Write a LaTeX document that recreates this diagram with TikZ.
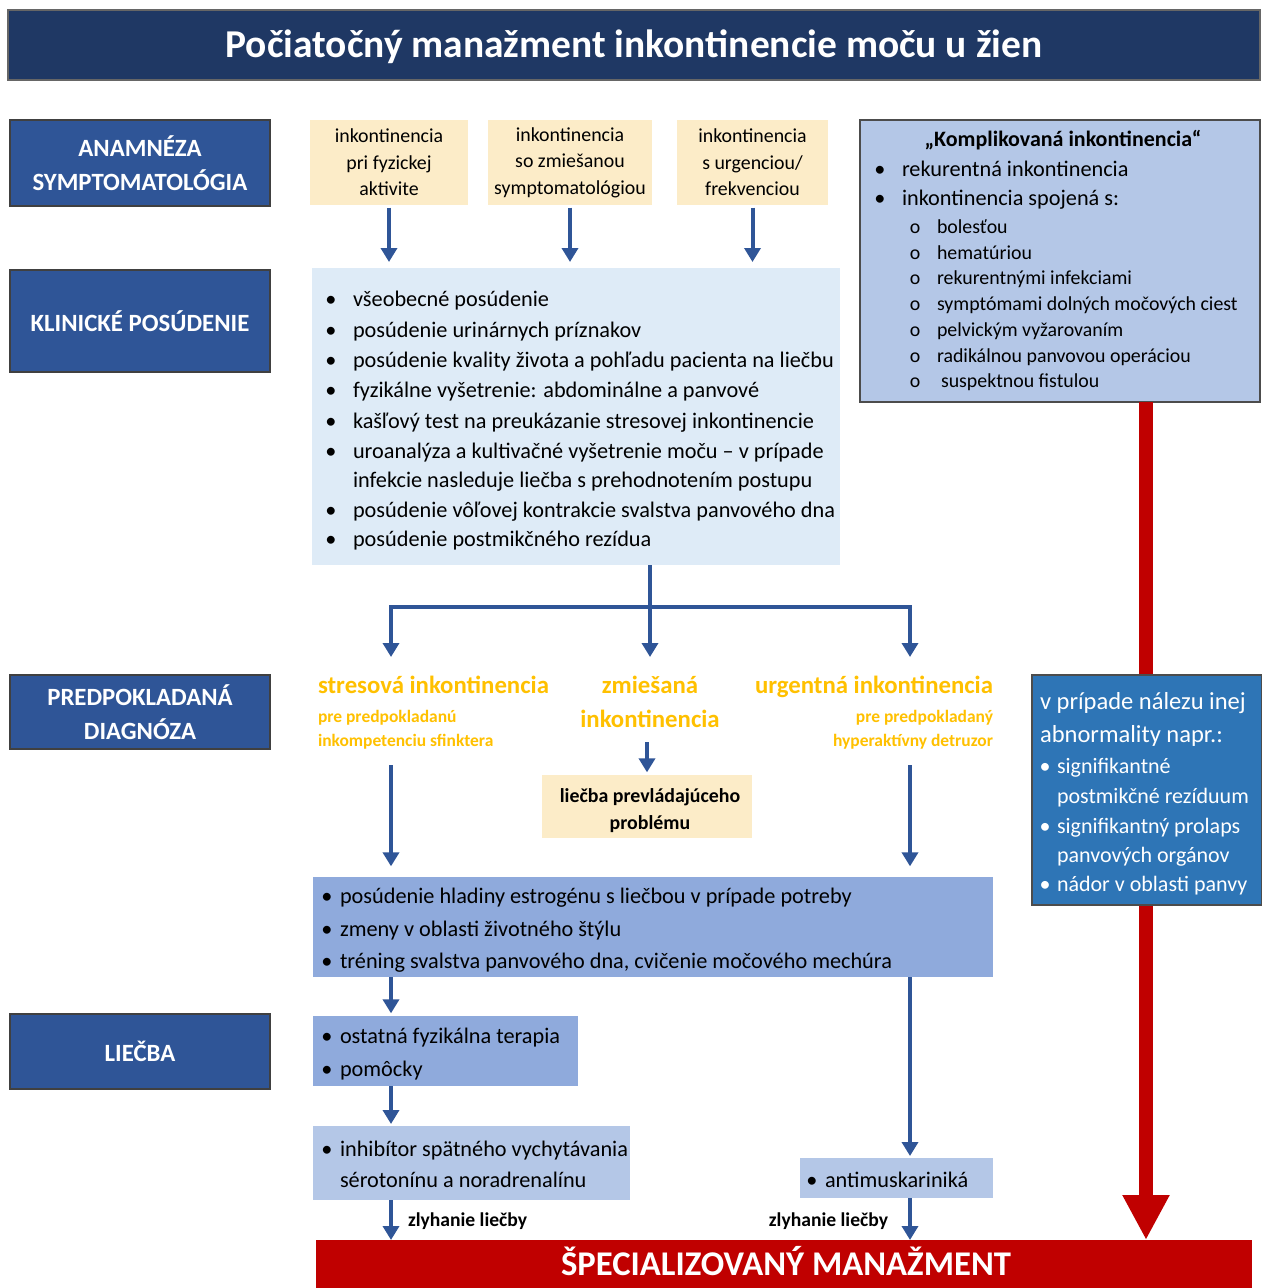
\documentclass[tikz,border=0pt]{standalone}
\usepackage{fontspec}
\setmainfont{Carlito}
\usetikzlibrary{arrows.meta}
\definecolor{navy}{RGB}{31,56,100}
\definecolor{lbox}{RGB}{47,85,151}
\definecolor{ylw}{RGB}{252,236,200}
\definecolor{pale}{RGB}{222,235,247}
\definecolor{mblue}{RGB}{180,199,231}
\definecolor{dblue}{RGB}{143,170,220}
\definecolor{rblue}{RGB}{46,117,182}
\definecolor{gold}{RGB}{255,192,0}
\definecolor{dred}{RGB}{192,0,0}
\definecolor{arrc}{RGB}{47,85,151}
\newcommand\rbox[7]{\node[#6, anchor=north west, minimum width={(#4-(#2))*0.75pt}, minimum height={(#5-(#3))*0.75pt}, inner sep=0pt, outer sep=0pt] (#1) at (#2,#3) {#7};}
\tikzset{
 ln/.style={inner sep=0pt, outer sep=0pt, text height=1.05em, text depth=0.05em},
 blk/.style={fill=lbox, draw=black!75, line width=1pt, text=white, align=center, font=\fontsize{18.6pt}{25.5pt}\selectfont\bfseries},
 ybox/.style={fill=ylw, align=center, font=\fontsize{14.9pt}{20pt}\selectfont},
 f16/.style={font=\fontsize{16.7pt}{20pt}\selectfont},
 f14/.style={font=\fontsize{14.9pt}{17pt}\selectfont},
 fw/.style={font=\fontsize{16.5pt}{20pt}\selectfont, text=white},
 fwb/.style={font=\fontsize{18.4pt}{22pt}\selectfont, text=white},
 dg/.style={font=\fontsize{18.6pt}{22pt}\selectfont\bfseries, text=gold},
 dgs/.style={font=\fontsize{13.1pt}{15pt}\selectfont\bfseries, text=gold},
 zl/.style={font=\fontsize{14.7pt}{17pt}\selectfont\bfseries},
 arr/.style={draw=arrc, line width=3pt, -{Triangle[length=10.5pt,width=12pt]}},
 redarr/.style={draw=dred, line width=10.5pt, -{Triangle[length=33.75pt,width=33pt]}},
}
\begin{document}
\begin{tikzpicture}[x=0.75pt,y=-0.75pt]
\useasboundingbox (0,0) rectangle (1262,1288);
% title
\rbox{title}{8}{10}{1260}{80}{fill=navy, draw=black!60, line width=1pt}{}
\node[ln, text=white, font=\fontsize{29.6pt}{32pt}\selectfont\bfseries] (titlet) at (634,51) {Počiatočný manažment inkontinencie moču u žien};
% left labels
\rbox{L1}{10}{120}{270}{206}{blk}{ANAMNÉZA\\SYMPTOMATOLÓGIA}
\rbox{L2}{10}{270}{270}{372}{blk}{KLINICKÉ POSÚDENIE}
\rbox{L3}{10}{675}{270}{749}{blk}{PREDPOKLADANÁ\\DIAGNÓZA}
\rbox{L4}{10}{1014}{270}{1089}{blk}{LIEČBA}
% yellow
\rbox{y1}{310}{120}{468}{205}{ybox}{inkontinencia\\pri fyzickej\\aktivite}
\rbox{y2}{488}{120}{652}{205}{ybox}{inkontinencia\\so zmiešanou\\symptomatológiou}
\rbox{y3}{677}{120}{828}{205}{ybox}{inkontinencia\\s urgenciou/\\frekvenciou}
% clinical
\rbox{kl}{312}{268}{840}{565}{fill=pale}{}
\foreach \i/\yy in {1/300,2/331,3/361,4/391,5/422,6/452,8/511,9/540}
  \node[ln,f16] (kb\i) at (331,\yy) {•};
\node[ln,f16,anchor=west] (k1) at (353,300) {všeobecné posúdenie};
\node[ln,f16,anchor=west] (k2) at (353,331) {posúdenie urinárnych príznakov};
\node[ln,f16,anchor=west] (k3) at (353,361) {posúdenie kvality života a pohľadu pacienta na liečbu};
\node[ln,f16,anchor=west] (k4) at (353,391) {fyzikálne vyšetrenie: abdominálne a panvové};
\node[ln,f16,anchor=west] (k5) at (353,422) {kašľový test na preukázanie stresovej inkontinencie};
\node[ln,f16,anchor=west] (k6) at (353,452) {uroanalýza a kultivačné vyšetrenie moču – v prípade};
\node[ln,f16,anchor=west] (k7) at (353,481) {infekcie nasleduje liečba s prehodnotením postupu};
\node[ln,f16,anchor=west] (k8) at (353,511) {posúdenie vôľovej kontrakcie svalstva panvového dna};
\node[ln,f16,anchor=west] (k9) at (353,540) {posúdenie postmikčného rezídua};
% complicated
\rbox{comp}{860}{120}{1260}{402}{fill=mblue, draw=black!70, line width=1pt}{}
\node[ln,font=\fontsize{16.5pt}{20pt}\selectfont\bfseries] (c0) at (1063,140) {„Komplikovaná inkontinencia“};
\node[ln,f16] (cb1) at (880,170) {•};
\node[ln,f16] (cb2) at (880,199) {•};
\node[ln,f16,anchor=west] (c1) at (902,170) {rekurentná inkontinencia};
\node[ln,f16,anchor=west] (c2) at (902,199) {inkontinencia spojená s:};
\foreach \i/\yy in {1/227,2/253,3/278,4/304,5/330,6/356,7/381}
  \node[ln,f14] (co\i) at (915,\yy) {o};
\node[ln,f14,anchor=west] (s1) at (937,227) {bolesťou};
\node[ln,f14,anchor=west] (s2) at (937,253) {hematúriou};
\node[ln,f14,anchor=west] (s3) at (937,278) {rekurentnými infekciami};
\node[ln,f14,anchor=west] (s4) at (937,304) {symptómami dolných močových ciest};
\node[ln,f14,anchor=west] (s5) at (937,330) {pelvickým vyžarovaním};
\node[ln,f14,anchor=west] (s6) at (937,356) {radikálnou panvovou operáciou};
\node[ln,f14,anchor=west] (s7) at (941,381) {suspektnou fistulou};
% bottom red
\rbox{spec}{316}{1240}{1252}{1300}{fill=dred}{}
\node[ln, text=white, font=\fontsize{26pt}{29pt}\selectfont\bfseries] (spect) at (786,1269) {ŠPECIALIZOVANÝ MANAŽMENT};
% red arrow
\coordinate (redx) at (1146,0);
\draw[redarr] (comp.south -| redx) -- (spec.north -| redx);
% right blue box
\rbox{rb}{1032}{675}{1262}{905}{fill=rblue, draw=black!70, line width=1pt}{}
\node[ln,fwb,anchor=west] (r1) at (1040,703) {v prípade nálezu inej};
\node[ln,fwb,anchor=west] (r2) at (1040,736) {abnormality napr.:};
\node[ln,fw] (rb1) at (1045,767) {•};
\node[ln,fw] (rb2) at (1045,827) {•};
\node[ln,fw] (rb3) at (1045,885) {•};
\node[ln,fw,anchor=west] (r3) at (1057,767) {signifikantné};
\node[ln,fw,anchor=west] (r4) at (1057,797) {postmikčné rezíduum};
\node[ln,fw,anchor=west] (r5) at (1057,827) {signifikantný prolaps};
\node[ln,fw,anchor=west] (r6) at (1057,856) {panvových orgánov};
\node[ln,fw,anchor=west] (r7) at (1057,885) {nádor v oblasti panvy};
% diagnoses
\node[ln,dg,anchor=west] (st) at (318,687) {stresová inkontinencia};
\node[ln,dgs,anchor=west] (st1) at (318,716) {pre predpokladanú};
\node[ln,dgs,anchor=west] (st2) at (318,740) {inkompetenciu sfinktera};
\node[ln,dg] (zm1) at (650,687) {zmiešaná};
\node[ln,dg] (zm2) at (650,721) {inkontinencia};
\node[ln,dg,anchor=east] (ur) at (993,687) {urgentná inkontinencia};
\node[ln,dgs,anchor=east] (ur1) at (993,716) {pre predpokladaný};
\node[ln,dgs,anchor=east] (ur2) at (993,740) {hyperaktívny detruzor};
\rbox{lp}{542}{775}{752}{838}{fill=ylw}{}
\node[ln,font=\fontsize{14.9pt}{17pt}\selectfont\bfseries] (lp1) at (650,796) {liečba prevládajúceho};
\node[ln,font=\fontsize{14.9pt}{17pt}\selectfont\bfseries] (lp2) at (650,823) {problému};
% treatment boxes
\rbox{mid}{313}{877}{993}{977}{fill=dblue}{}
\foreach \i/\yy in {1/897,2/930,3/962}
  \node[ln,f16] (mb\i) at (327,\yy) {•};
\node[ln,f16,anchor=west] (m1) at (340,897) {posúdenie hladiny estrogénu s liečbou v prípade potreby};
\node[ln,f16,anchor=west] (m2) at (340,930) {zmeny v oblasti životného štýlu};
\node[ln,f16,anchor=west] (m3) at (340,962) {tréning svalstva panvového dna, cvičenie močového mechúra};
\rbox{b2}{313}{1016}{578}{1086}{fill=dblue}{}
\node[ln,f16] (b2b1) at (327,1037) {•};
\node[ln,f16] (b2b2) at (327,1070) {•};
\node[ln,f16,anchor=west] (b2t1) at (340,1037) {ostatná fyzikálna terapia};
\node[ln,f16,anchor=west] (b2t2) at (340,1070) {pomôcky};
\rbox{b3}{313}{1126}{630}{1200}{fill=mblue}{}
\node[ln,f16] (b3b1) at (327,1150) {•};
\node[ln,f16,anchor=west] (b3t1) at (340,1150) {inhibítor spätného vychytávania};
\node[ln,f16,anchor=west] (b3t2) at (340,1181) {sérotonínu a noradrenalínu};
\rbox{am}{800}{1158}{993}{1198}{fill=mblue}{}
\node[ln,f16] (amb) at (812,1181) {•};
\node[ln,f16,anchor=west] (amt) at (825,1181) {antimuskariniká};
\node[ln,zl,anchor=west] (zl1) at (408,1220) {zlyhanie liečby};
\node[ln,zl,anchor=east] (zl2) at (888,1220) {zlyhanie liečby};
% connectors
\coordinate (colA) at (391,0);
\coordinate (colB) at (650,0);
\coordinate (colC) at (910,0);
\coordinate (br) at (0,607);
\coordinate (dtop) at (0,657);
\coordinate (dbot) at (0,765);
\coordinate (zbot) at (0,742);
\draw[arr, shorten <=2pt, shorten >=4.5pt] (y1.south) -- (y1.south |- kl.north);
\draw[arr, shorten <=2pt, shorten >=4.5pt] (y2.south) -- (y2.south |- kl.north);
\draw[arr, shorten <=2pt, shorten >=4.5pt] (y3.south) -- (y3.south |- kl.north);
\draw[arr] (kl.south -| colB) -- (colB |- dtop);
\draw[draw=arrc, line width=3pt, {Triangle[length=10.5pt,width=12pt]}-{Triangle[length=10.5pt,width=12pt]}] (colA |- dtop) -- (colA |- br) -- (colC |- br) -- (colC |- dtop);
\draw[arr, shorten >=8pt] (colA |- dbot) -- (mid.north -| colA);
\draw[arr, shorten >=8pt] (colC |- dbot) -- (mid.north -| colC);
\draw[arr, shorten >=2pt] (zbot -| lp.north) -- (lp.north);
\draw[arr, shorten >=2pt] (mid.south -| colA) -- (b2.north -| colA);
\draw[arr, shorten >=1.5pt] (b2.south -| colA) -- (b3.north -| colA);
\draw[arr] (b3.south -| colA) -- (spec.north -| colA);
\draw[arr, shorten >=1.5pt] (mid.south -| colC) -- (am.north -| colC);
\draw[arr] (am.south -| colC) -- (spec.north -| colC);
\end{tikzpicture}
\end{document}
